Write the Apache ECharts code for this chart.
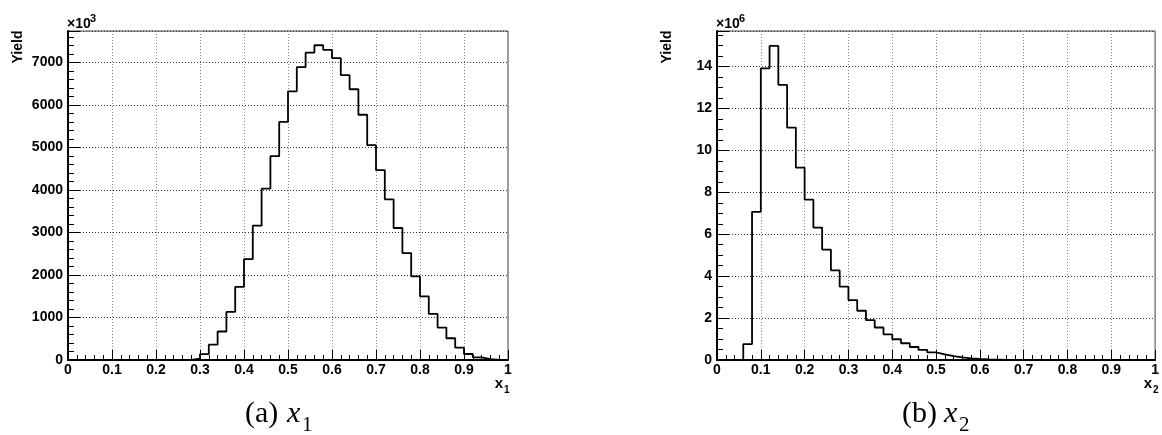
<!DOCTYPE html>
<html><head><meta charset="utf-8">
<script src="https://cdn.jsdelivr.net/npm/echarts@6/dist/echarts.min.js"></script>
<style>html,body{margin:0;padding:0;background:#fff}#c{width:1162px;height:435px}</style>
</head><body><div id="c"></div>
<script>
// Histogram bin width (both panels), x range 0..1
const binWidth = 0.02;
// Panel (a): yield per bin of x1, in units of 10^3
const x1Yield = [
  0,0,0,0,0,0,0,0,0,0,
  0,0,0,5,30,140,360,670,1130,1720,
  2375,3160,4030,4795,5600,6320,6890,7230,7405,7295,
  7100,6700,6370,5770,5055,4465,3780,3105,2515,1965,
  1495,1085,762,512,290,141,63,20,3,0
];
// Panel (b): yield per bin of x2, in units of 10^6
const x2Yield = [
  0,0,0,0.76,7.07,13.92,14.99,13.13,11.09,9.18,
  7.65,6.32,5.27,4.28,3.50,2.86,2.35,1.90,1.55,1.22,
  0.99,0.80,0.62,0.48,0.36,0.27,0.19,0.13,0.08,0.05,
  0.03,0.02,0.01,0,0,0,0,0,0,0,
  0,0,0,0,0,0,0,0,0,0
];
const panelA = {yMax: 7740, major: 1000, minor: 200, exponent: '3', xSub: '1', tag: '(a)'};
const panelB = {yMax: 15.7, major: 2, minor: 0.5, exponent: '6', xSub: '2', tag: '(b)'};

function stepPoints(vals){
  const pts = vals.map((v,i)=>[+(i*binWidth).toFixed(4), v]);
  pts.push([1, vals[vals.length-1]]);
  return pts;
}

const grids = [
  {left: 68, top: 31, width: 440, height: 329},
  {left: 717, top: 31, width: 440, height: 329}
];
const panels = [panelA, panelB];
const LBL = {fontFamily: 'Liberation Sans, Arial, sans-serif', fontWeight: 'bold', fontSize: 14, color: '#000'};

const xAxes = [], yAxes = [], series = [];
panels.forEach((p, i) => {
  xAxes.push({
    type: 'value', gridIndex: i, min: 0, max: 1, interval: 0.1,
    axisLine: {show: true, onZero: false, lineStyle: {color: '#000', width: 2}},
    axisTick: {show: true, inside: true, length: 10, lineStyle: {color: '#000', width: 1}},
    minorTick: {show: true, splitNumber: 5, length: 5, lineStyle: {color: '#000', width: 1}},
    splitLine: {show: true, lineStyle: {color: '#888', width: 1, type: [1, 2]}},
    axisLabel: Object.assign({margin: 3}, LBL)
  });
  yAxes.push({
    type: 'value', gridIndex: i, position: 'left', min: 0, max: p.yMax, interval: p.major,
    axisLine: {show: true, onZero: false, lineStyle: {color: '#000', width: 2}},
    axisTick: {show: true, inside: true, length: 12, lineStyle: {color: '#000', width: 1}},
    splitLine: {show: true, lineStyle: {color: '#333', width: 1, type: [1, 2]}},
    axisLabel: Object.assign({margin: 5, formatter: v => {
      const r = v / p.major; return Math.abs(r - Math.round(r)) < 1e-6 ? String(Math.round(r) * p.major) : '';
    }}, LBL)
  });
  yAxes.push({
    type: 'value', gridIndex: i, position: 'left', offset: 0, min: 0, max: p.yMax, interval: p.minor,
    axisLine: {show: false},
    axisTick: {show: true, inside: true, length: 6, lineStyle: {color: '#000', width: 1}},
    splitLine: {show: false},
    axisLabel: {show: false}
  });
});
series.push({type: 'line', xAxisIndex: 0, yAxisIndex: 0, step: 'end', symbol: 'none',
  data: stepPoints(x1Yield), lineStyle: {color: '#000', width: 1.8}, z: 5});
series.push({type: 'line', xAxisIndex: 1, yAxisIndex: 2, step: 'end', symbol: 'none',
  data: stepPoints(x2Yield), lineStyle: {color: '#000', width: 1.8}, z: 5});

const graphics = [];
panels.forEach((p, i) => {
  const L = grids[i].left, R = grids[i].left + grids[i].width;
  // Yield
  graphics.push({type: 'text', x: L - 50, y: 47, rotation: Math.PI/2,
    style: {text: 'Yield', font: 'bold 14px "Liberation Sans", Arial, sans-serif', fill: '#000', align: 'center', verticalAlign: 'middle'}});
  // x10^n
  graphics.push({type: 'text', x: L - 1, y: 24.5,
    style: {text: '\u00d710', font: 'bold 14px "Liberation Sans", Arial, sans-serif', fill: '#000', align: 'left', verticalAlign: 'middle'}});
  graphics.push({type: 'text', x: L + 22, y: 19,
    style: {text: p.exponent, font: 'bold 11px "Liberation Sans", Arial, sans-serif', fill: '#000', align: 'left', verticalAlign: 'middle'}});
  // axis title x_n
  graphics.push({type: 'text', x: R - 5, y: 384,
    style: {text: 'x', font: 'bold 15px "Liberation Sans", Arial, sans-serif', fill: '#000', align: 'right', verticalAlign: 'middle'}});
  graphics.push({type: 'text', x: R - 4, y: 390,
    style: {text: p.xSub, font: 'bold 10px "Liberation Sans", Arial, sans-serif', fill: '#000', align: 'left', verticalAlign: 'middle'}});
});
// captions
const capX = [245, 902];
panels.forEach((p, i) => {
  const cx = capX[i];
  graphics.push({type: 'text', x: cx, y: 414,
    style: {text: p.tag, font: '30px "Liberation Serif", "Times New Roman", serif', fill: '#000', align: 'left', verticalAlign: 'middle'}});
  graphics.push({type: 'text', x: cx + 42, y: 414,
    style: {text: 'x', font: 'italic 30px "Liberation Serif", "Times New Roman", serif', fill: '#000', align: 'left', verticalAlign: 'middle'}});
  graphics.push({type: 'text', x: cx + 57, y: 425,
    style: {text: p.xSub, font: '21px "Liberation Serif", "Times New Roman", serif', fill: '#000', align: 'left', verticalAlign: 'middle'}});
});

const chart = echarts.init(document.getElementById('c'), null, {renderer: 'canvas'});
chart.setOption({
  animation: false,
  backgroundColor: '#fff',
  grid: grids.map(g => Object.assign({show: true, borderColor: '#444', borderWidth: 1, backgroundColor: 'transparent', containLabel: false}, g)),
  xAxis: xAxes,
  yAxis: yAxes,
  series: series,
  graphic: graphics
});
</script>
</body></html>
